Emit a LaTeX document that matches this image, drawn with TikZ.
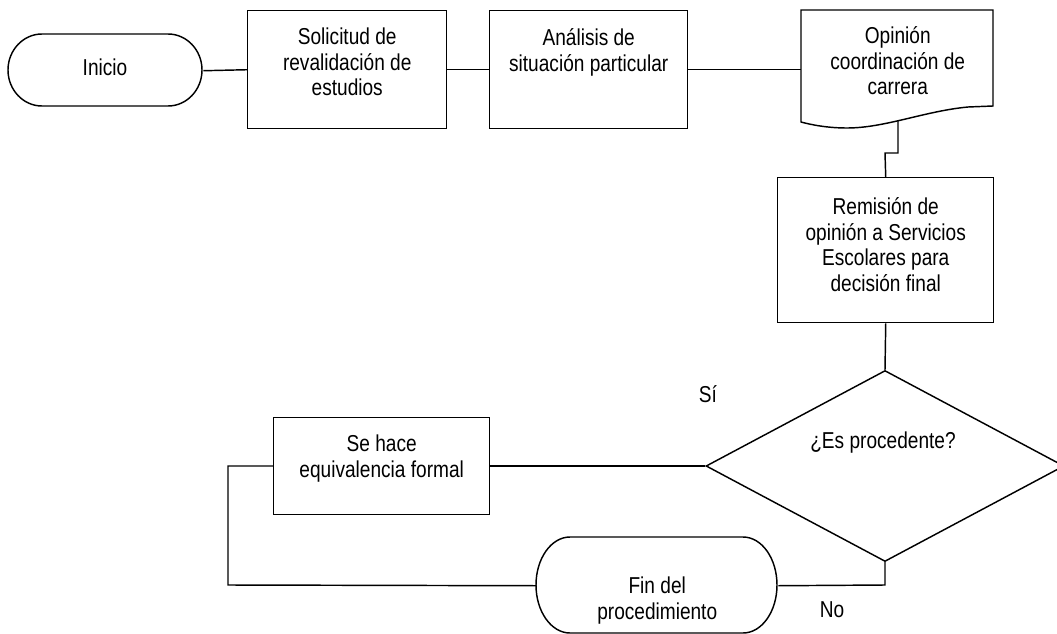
\documentclass[tikz,border=0pt]{standalone}
\usepackage{fontspec}
\setmainfont{Liberation Sans}[FakeStretch=0.83]
\usetikzlibrary{shapes.geometric}
% a fixed first-line height, so every block is placed by its first baseline
\newcommand\firstline{\rule{0pt}{21pt}}
\begin{document}
\begin{tikzpicture}[x=1pt,y=-1pt,
  line width=1.45pt, line join=miter,
  frame/.style={draw, rectangle, inner sep=0pt, anchor=north west},
  ghost/.style={rectangle, inner sep=0pt, anchor=north west},
  txt/.style={inner sep=0pt, align=center, anchor=north,
    font=\fontsize{23}{25.5}\selectfont},
  lbl/.style={inner sep=0pt, anchor=base, font=\fontsize{23}{25.5}\selectfont}]
\clip (0,0) rectangle (1057,634);
\fill[white] (0,0) rectangle (1057,634);

% terminal: Inicio
\node[ghost, minimum width=194pt, minimum height=72pt] (inicio) at (8,34) {};
\draw (42,34) -- (168,34) arc[start angle=-90, end angle=90, x radius=34, y radius=36]
      -- (42,106) arc[start angle=90, end angle=270, x radius=34, y radius=36] -- cycle;
\node[lbl] (tinicio) at (105,75) {Inicio};

% process boxes, top row
\node[frame, minimum width=199pt, minimum height=118pt] (sol) at (247,10) {};
\node[txt] (tsol) at ([yshift=-13pt]sol.north) {\firstline Solicitud de\\revalidación de\\estudios};

\node[frame, minimum width=198pt, minimum height=118pt] (ana) at (489,10) {};
\node[txt] (tana) at ([yshift=-14pt]ana.north) {\firstline Análisis de\\situación particular};

% document shape
\node[ghost, minimum width=192pt, minimum height=112pt] (doc) at (801,10) {};
\draw (801,10) -- (993,10) -- (993,106) -- (968,107)
      .. controls (925,111) and (885,128) .. (847,128)
      .. controls (828,128) and (812,125) .. (801,122) -- cycle;
\node[txt] (tdoc) at ([yshift=-12pt]doc.north) {\firstline Opinión\\coordinación de\\carrera};
\coordinate (docout) at (898,121);

\node[frame, minimum width=216pt, minimum height=145pt] (rem) at (777,177) {};
\node[txt] (trem) at ([yshift=-16pt]rem.north) {\firstline Remisión de\\opinión a Servicios\\Escolares para\\decisión final};

% decision
\node[diamond, draw, inner sep=0pt, minimum width=358pt, minimum height=191pt] (dec) at (885,466) {};
\node[lbl] (tdec) at (883,448) {¿Es procedente?};

\node[frame, minimum width=216pt, minimum height=97pt] (seh) at (273,417) {};
\node[txt] (tseh) at ([yshift=-13pt]seh.north) {\firstline Se hace\\equivalencia formal};

% terminal: Fin
\node[ghost, minimum width=241pt, minimum height=96pt] (fin) at (536,537) {};
\draw (570,537) -- (743,537) arc[start angle=-90, end angle=90, x radius=34, y radius=48]
      -- (570,633) arc[start angle=90, end angle=270, x radius=34, y radius=48] -- cycle;
\node[txt] (tfin) at ([yshift=-35pt]fin.north) {\firstline Fin del\\procedimiento};

% connectors
\draw (inicio.east) -- (sol.west);
\draw (sol.east) -- (ana.west);
\draw (ana.east) -- (doc.west |- ana.east);
\draw (docout) -- (898,153) -- (885,153) -- (rem.north);
\draw (rem.south) -- (dec.north);
\draw (dec.west) -- (seh.east |- dec.west);
\draw (dec.south) -- (885,585) -- (fin.east);
\draw (fin.west) -- (228,585) -- (228,466) -- (seh.west |- 228,466);

\node[lbl] (si) at (708,402) {Sí};
\node[lbl] (no) at (832,617) {No};
\end{tikzpicture}
\end{document}
